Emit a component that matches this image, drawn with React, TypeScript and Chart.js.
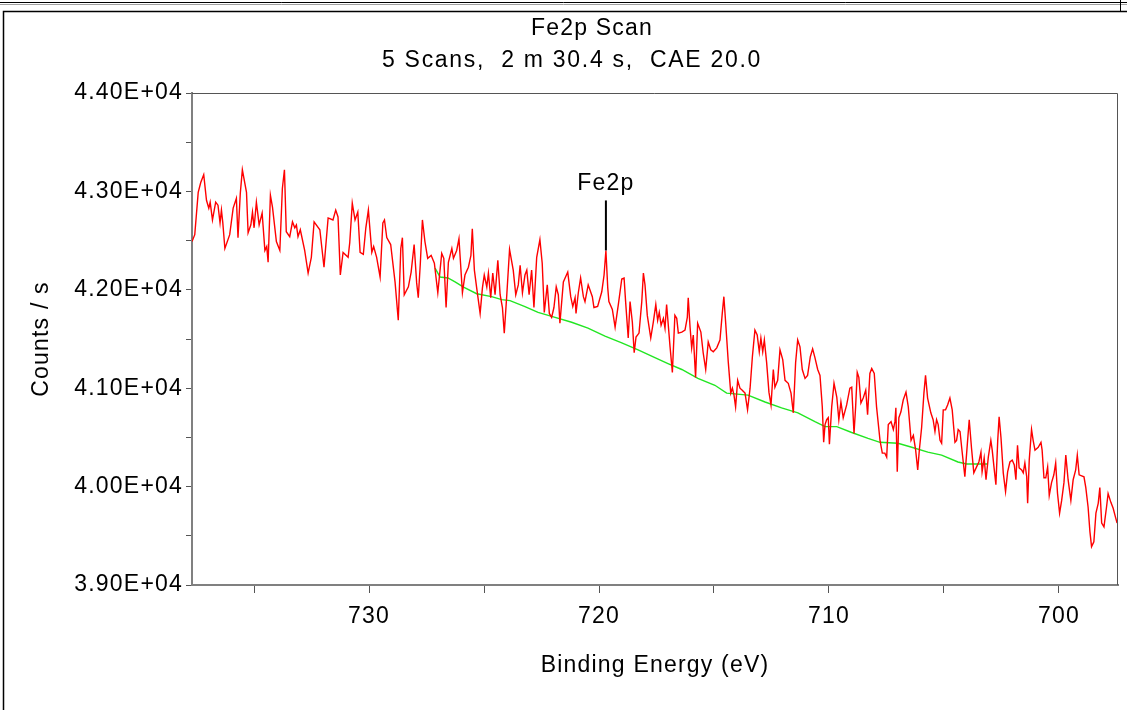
import React, { useEffect, useRef } from "react";
import { Chart, registerables } from "chart.js";

Chart.register(...registerables);

const titleText = "Fe2p Scan";
const subtitleText = "5 Scans,  2 m 30.4 s,  CAE 20.0";
const xAxisTitle = "Binding Energy (eV)";
const yAxisTitle = "Counts / s";
const xMin = 697.43;
const xMax = 737.7;
const yMin = 39000;
const yMax = 44000;
const xLabelValues = [700, 710, 720, 730];
const yLabelValues = [39000, 40000, 41000, 42000, 43000, 44000];
const peakLabel = "Fe2p";
const peakEnergy = 719.7;
const peakCounts = 42400;

const energies = [
  737.70,737.58,737.43,737.32,737.19,737.07,736.97,736.91,736.81,736.67,
  736.57,736.48,736.42,736.36,736.27,736.06,735.91,735.77,735.70,735.60,
  735.51,735.33,735.26,735.14,735.07,735.00,734.90,734.78,734.65,734.53,
  734.45,734.39,734.29,734.20,734.03,733.88,733.77,733.68,733.60,733.45,
  733.33,733.23,733.16,733.09,732.99,732.80,732.65,732.51,732.39,732.14,
  731.96,731.78,731.57,731.45,731.35,731.25,731.13,730.91,730.84,
  730.73,730.61,730.49,730.39,730.25,730.14,730.03,729.88,729.80,729.67,
  729.52,729.40,729.33,729.23,729.06,728.87,728.73,728.62,728.55,728.47,
  728.29,728.17,728.04,727.93,727.86,727.77,727.68,727.57,727.45,727.30,
  727.16,727.01,726.84,726.75,726.65,726.55,726.40,726.33,726.19,726.09,
  725.94,725.83,725.68,725.57,725.51,725.42,725.32,725.17,725.07,724.99,
  724.88,724.81,724.71,724.62,724.52,724.40,724.30,724.20,724.12,724.01,
  723.89,
  723.73,723.62,723.51,723.43,723.33,723.22,723.14,723.04,722.93,722.83,
  722.71,722.57,722.47,722.38,722.25,722.16,722.06,721.96,721.86,721.77,
  721.70,721.55,721.36,721.23,721.14,721.04,721.00,720.90,720.80,720.68,
  720.61,720.47,720.29,720.22,720.06,719.88,719.78,719.70,719.62,719.57,
  719.42,719.30,719.16,719.01,718.91,718.84,718.73,718.65,718.55,718.47,
  718.39,718.26,718.14,718.07,718.00,717.90,717.75,717.64,717.53,717.45,
  717.38,717.30,717.20,
  717.13,717.06,716.91,716.81,716.70,716.62,716.55,716.40,716.26,716.16,
  716.12,716.04,715.97,715.90,715.80,715.71,715.57,715.47,715.36,715.25,
  715.14,715.03,714.88,714.74,714.64,714.57,714.49,714.38,714.27,714.20,
  714.13,714.06,713.97,713.87,713.77,713.65,713.54,713.43,713.33,713.22,
  713.12,713.03,712.96,712.88,712.81,712.71,712.61,712.52,712.42,712.35,
  712.23,712.13,712.01,711.91,711.77,711.65,711.55,711.45,711.36,711.26,
  711.16,711.04,710.93,710.81,710.71,710.61,710.49,710.39,710.29,710.23,
  710.17,710.10,710.03,709.98,
  709.88,709.78,709.66,709.57,709.48,709.38,709.23,709.09,709.01,708.91,
  708.84,708.77,708.70,708.61,708.51,708.40,708.32,708.22,708.14,708.03,
  707.93,707.78,707.68,707.57,707.49,707.42,707.30,707.20,707.13,707.09,
  707.03,706.96,706.87,706.77,706.65,706.55,706.43,706.33,706.23,706.14,
  706.07,705.97,705.87,705.80,705.71,705.57,705.47,705.39,705.32,705.25,
  705.17,705.10,705.03,704.93,704.84,704.74,704.64,704.52,704.45,704.38,
  704.30,704.23,704.09,703.97,703.90,703.80,703.70,703.58,703.48,703.39,
  703.34,703.25,703.17,703.07,
  702.96,702.90,702.81,702.74,702.66,702.60,702.52,702.42,702.32,702.23,
  702.13,702.03,701.94,701.87,701.80,701.73,701.62,701.55,701.48,701.40,
  701.36,701.29,701.19,701.12,701.04,700.90,700.78,700.73,700.65,700.57,
  700.49,700.42,700.32,700.22,700.14,700.06,699.97,699.88,699.78,699.70,
  699.60,699.48,699.38,699.27,699.20,699.12,699.01,698.91,698.83,698.73,
  698.65,698.58,698.48,698.39,698.29,698.22,698.14,698.04,697.93,697.86,
  697.74,697.64,697.54,697.47,
];

const counts = [
  42490,42560,42990,43090,43170,42910,42830,42890,42710,42890,
  42860,42680,42810,42680,42420,42560,42830,42930,42530,42980,
  43220,42990,42580,42660,42790,42630,42890,42660,42780,42400,
  42440,42280,42960,42840,42490,42400,43030,43220,42590,42540,
  42690,42630,42660,42540,42610,42400,42170,42330,42690,42610,
  42230,42730,42710,42810,42740,42150,42380,42330,42480,
  42880,42710,42790,42380,42360,42630,42810,42380,42440,42330,
  42130,42680,42710,42530,42460,42080,41690,42420,42530,41950,
  42030,42180,42460,42070,41920,42270,42710,42490,42320,42350,
  42270,41970,42370,42320,41820,42280,42420,42320,42400,42520,
  41970,42150,42230,42350,42620,42200,42020,41760,42020,42150,
  42030,42170,41920,42170,41950,42300,41950,41820,41560,41950,
  42410,
  42200,41950,42050,42250,41970,42150,42200,41950,42200,41820,
  42330,42510,42270,41770,42050,41760,41720,41820,42030,41950,
  41660,42080,42180,41930,41830,41920,41760,41970,42120,41930,
  41880,42050,41930,41820,41830,41980,42150,42400,42020,41880,
  41800,41620,41850,42110,42120,41870,41510,41880,41670,41360,
  41520,41560,41880,42170,42050,41740,41510,41670,41850,41690,
  41770,41640,41710,
  41610,41850,41420,41160,41740,41710,41560,41570,41590,41720,
  41920,41620,41410,41540,41110,41660,41570,41360,41190,41470,
  41390,41370,41410,41490,41760,41930,41660,41270,40950,41000,
  40930,40810,41080,41000,40980,40950,40780,41000,41320,41590,
  41540,41370,41510,41370,41490,41260,40960,40830,41190,41010,
  41080,41390,41290,41080,41050,40950,40750,41260,41490,41420,
  41190,41100,41130,41320,41400,41310,41190,41130,40810,40450,
  40630,40680,40700,40430,
  40810,41050,40910,40680,40860,40700,40830,41000,41010,40540,
  40810,41160,41110,40850,40900,40980,40730,41150,41200,41150,
  40810,40470,40340,40340,40300,40630,40660,40580,40660,40800,
  40150,40700,40760,40880,40960,40810,40470,40520,40370,40170,
  40370,40600,40950,41130,40900,40750,40680,40560,40680,40630,
  40470,40440,40780,40780,40830,40900,40780,40450,40470,40580,
  40560,40400,40100,40470,40680,40390,40140,40200,40250,40350,
  40150,40290,40070,40300,
  40470,40370,40170,40020,40470,40710,40500,40140,39950,40150,
  40250,40270,40220,40070,40420,40190,40170,40140,40240,40100,
  39830,40270,40580,40470,40370,40400,40450,40370,40090,40090,
  40200,39910,40040,40120,40240,39930,39730,39860,40040,40320,
  40070,39860,40070,40170,40320,40120,40110,40100,39990,39790,
  39540,39390,39440,39730,39830,39990,39630,39590,39790,39930,
  39840,39780,39690,39630,
];

const bgEnergies = [
  727.13,726.91,726.57,726.26,725.91,725.32,724.67,724.23,723.87,723.22,
  722.65,721.91,721.19,720.48,719.74,719.01,718.30,717.57,717.00,716.40,
  715.70,714.96,714.45,713.52,712.78,712.06,711.35,710.61,710.17,709.66,
  709.01,708.30,707.78,707.00,706.40,705.70,705.10,704.39,704.01,703.09,
];
const bgCounts = [
  42220,42130,42120,42080,42030,41960,41930,41900,41890,41830,
  41770,41720,41670,41610,41530,41460,41390,41310,41250,41190,
  41100,41030,40950,40930,40860,40800,40750,40660,40610,40610,
  40550,40490,40450,40440,40400,40350,40320,40250,40230,40230,
];

const FONT = '"Liberation Sans", Arial, sans-serif';
const W = 1127;
const H = 710;
const PLOT_LEFT = 192;
const PLOT_RIGHT = 1118;
const PLOT_TOP = 93;
const PLOT_BOTTOM = 585;

function fmtSci(v: number): string {
  const [m, e] = v.toExponential(2).split("e");
  const n = parseInt(e, 10);
  const sign = n < 0 ? "-" : "+";
  const abs = Math.abs(n);
  return m + "E" + sign + (abs < 10 ? "0" + abs : String(abs));
}

const decorPlugin = {
  id: "decor",
  beforeDraw(chart: any) {
    const ctx = chart.ctx;
    ctx.save();
    ctx.fillStyle = "#ffffff";
    ctx.fillRect(0, 0, W, H);
    ctx.strokeStyle = "#000000";
    ctx.lineWidth = 1;
    ctx.beginPath();
    ctx.moveTo(0, 2.5);
    ctx.lineTo(W, 2.5);
    ctx.stroke();
    ctx.strokeStyle = "#a0a0a0";
    ctx.beginPath();
    ctx.moveTo(0, 4.5);
    ctx.lineTo(W, 4.5);
    ctx.stroke();
    ctx.strokeStyle = "#000000";
    ctx.lineWidth = 1.5;
    ctx.beginPath();
    ctx.moveTo(3.5, H);
    ctx.lineTo(3.5, 11.5);
    ctx.lineTo(W, 11.5);
    ctx.stroke();
    ctx.lineWidth = 1;
    ctx.beginPath();
    ctx.moveTo(1120.5, 0);
    ctx.lineTo(1120.5, 11);
    ctx.stroke();
    ctx.restore();
    (ctx as any).letterSpacing = "1.2px";
  },
  afterDraw(chart: any) {
    const ctx = chart.ctx;
    const { x, y } = chart.scales;
    ctx.save();
    ctx.strokeStyle = "#555555";
    ctx.lineWidth = 1;
    ctx.beginPath();
    ctx.moveTo(PLOT_LEFT, PLOT_TOP + 0.5);
    ctx.lineTo(PLOT_RIGHT - 0.5, PLOT_TOP + 0.5);
    ctx.lineTo(PLOT_RIGHT - 0.5, PLOT_BOTTOM);
    ctx.stroke();
    ctx.fillStyle = "#000000";
    ctx.font = "23px " + FONT;
    ctx.textAlign = "center";
    ctx.textBaseline = "middle";
    (ctx as any).letterSpacing = "1.2px";
    ctx.fillText(titleText, 592, 29);
    (ctx as any).letterSpacing = "1.7px";
    ctx.fillText(subtitleText, 572, 61);
    (ctx as any).letterSpacing = "1.2px";
    const px = x.getPixelForValue(peakEnergy);
    const py = y.getPixelForValue(peakCounts);
    ctx.strokeStyle = "#000000";
    ctx.lineWidth = 2;
    ctx.beginPath();
    ctx.moveTo(px, py);
    ctx.lineTo(px, py - 50);
    ctx.stroke();
    ctx.fillText(peakLabel, px, py - 67);
    ctx.restore();
  },
};

export default function App() {
  const ref = useRef<HTMLCanvasElement | null>(null);

  useEffect(() => {
    if (!ref.current) return;
    const n = Math.min(energies.length, counts.length);
    const mainData = [] as { x: number; y: number }[];
    for (let i = 0; i < n; i++) mainData.push({ x: energies[i], y: counts[i] });
    const bgData = bgEnergies.map((e, i) => ({ x: e, y: bgCounts[i] }));

    const tickFont = { family: FONT, size: 23 };

    const chart = new Chart(ref.current, {
      type: "line",
      data: {
        datasets: [
          {
            data: mainData,
            borderColor: "#ff0000",
            borderWidth: 1.4,
            pointRadius: 0,
            tension: 0,
            fill: false,
          },
          {
            data: bgData,
            borderColor: "#22e622",
            borderWidth: 1.4,
            pointRadius: 0,
            tension: 0,
            fill: false,
          },
        ],
      },
      options: {
        animation: false,
        responsive: false,
        maintainAspectRatio: false,
        events: [],
        layout: { padding: { top: PLOT_TOP, right: W - PLOT_RIGHT, left: 0, bottom: 0 } },
        plugins: {
          legend: { display: false },
          tooltip: { enabled: false },
          title: { display: false },
        },
        scales: {
          x: {
            type: "linear",
            reverse: true,
            min: xMin,
            max: xMax,
            position: "bottom",
            afterFit: (s: any) => {
              s.height = H - PLOT_BOTTOM;
            },
            ticks: {
              stepSize: 5,
              autoSkip: false,
              includeBounds: false,
              maxRotation: 0,
              padding: 10,
              color: "#000000",
              font: tickFont,
              callback: (v: any) => (xLabelValues.includes(Math.round(Number(v))) && Math.abs(Number(v) - Math.round(Number(v))) < 1e-6 ? String(Math.round(Number(v))) : ""),
            },
            grid: {
              drawOnChartArea: false,
              drawTicks: true,
              tickLength: 8,
              color: "#555555",
              lineWidth: 1,
            },
            border: { display: true, color: "#808080", width: 2 },
            title: {
              display: true,
              text: xAxisTitle,
              color: "#000000",
              font: tickFont,
              padding: { top: 0, bottom: 31 },
            },
          },
          y: {
            type: "linear",
            min: yMin,
            max: yMax,
            position: "left",
            afterFit: (s: any) => {
              s.width = PLOT_LEFT;
            },
            ticks: {
              stepSize: 500,
              autoSkip: false,
              padding: 3,
              color: "#000000",
              font: tickFont,
              callback: (v: any) => (yLabelValues.includes(Number(v)) ? fmtSci(Number(v)) : ""),
            },
            grid: {
              drawOnChartArea: false,
              drawTicks: true,
              tickLength: 6,
              color: "#555555",
              lineWidth: 1,
            },
            border: { display: true, color: "#808080", width: 2 },
            title: {
              display: true,
              text: yAxisTitle,
              color: "#000000",
              font: tickFont,
              padding: { top: 28, bottom: 0 },
            },
          },
        },
      },
      plugins: [decorPlugin],
    });
    return () => chart.destroy();
  }, []);

  return (
    <div style={{ position: "fixed", left: 0, top: 0, width: W, height: H, background: "#fff" }}>
      <canvas ref={ref} width={W} height={H} style={{ width: W, height: H, display: "block" }} />
    </div>
  );
}
